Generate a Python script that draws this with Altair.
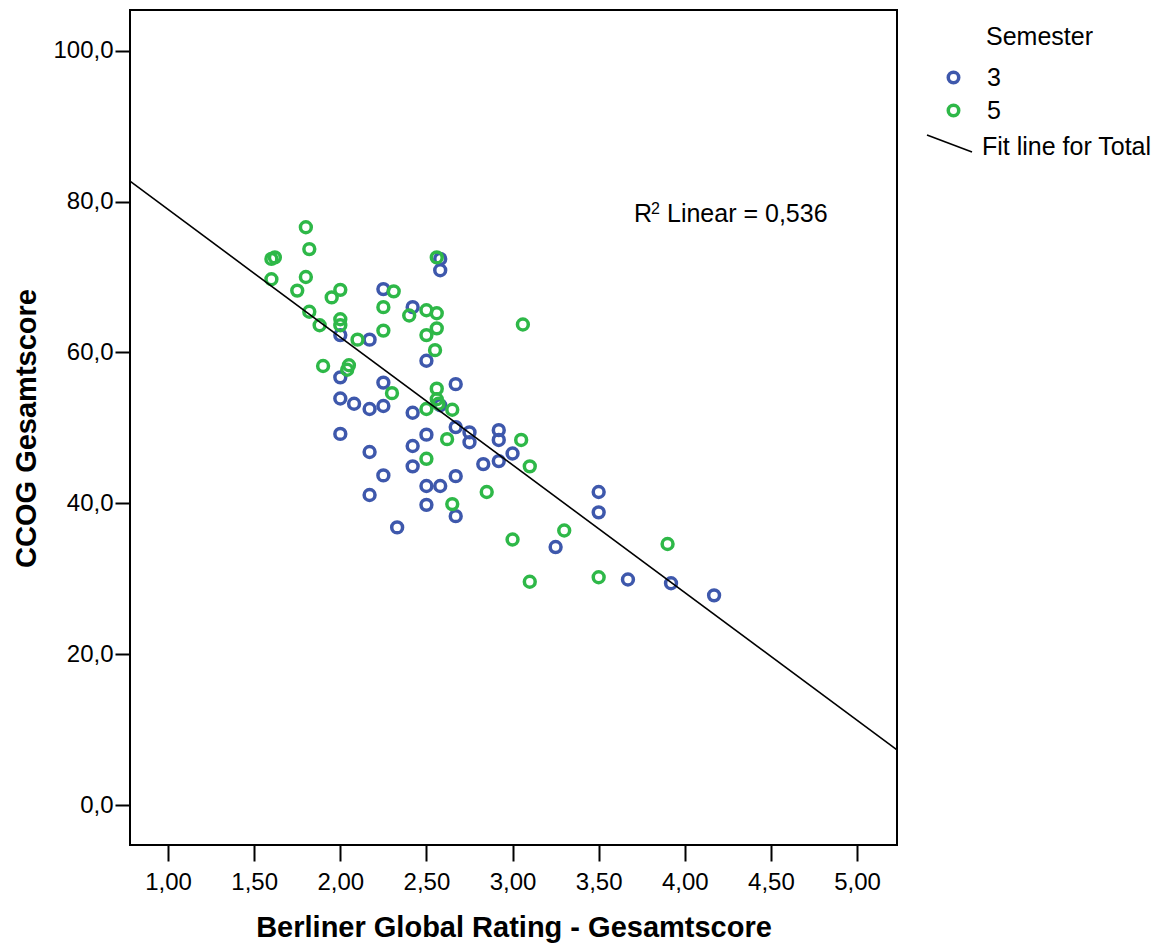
import altair as alt
import pandas as pd

# ---- data ----
sem3_x = [2.58, 2.58, 2.25, 2.42, 2.00, 2.17, 2.50, 2.00, 2.25, 2.67, 2.00, 2.08, 2.17, 2.25,
          2.42, 2.58, 2.67, 2.75, 2.92, 2.92, 2.75, 2.50, 2.00, 2.42, 2.17, 3.00, 2.83, 2.92,
          2.42, 2.25, 2.67, 2.50, 2.58, 2.17, 2.50, 2.67, 2.33, 3.50, 3.50, 3.25, 3.67, 3.92, 4.17]
sem3_y = [72.4, 70.9, 68.4, 66.0, 62.3, 61.7, 58.9, 56.7, 56.0, 55.8, 53.9, 53.2, 52.5, 52.9,
          52.0, 53.0, 50.1, 49.4, 49.7, 48.4, 48.1, 49.1, 49.2, 47.6, 46.8, 46.6, 45.2, 45.6,
          44.9, 43.7, 43.6, 42.3, 42.3, 41.1, 39.8, 38.3, 36.8, 41.5, 38.8, 34.2, 29.9, 29.4, 27.8]

sem5_x = [1.80, 1.82, 1.60, 1.62, 1.60, 1.80, 1.75, 1.95, 2.00, 2.31, 1.82, 1.88, 2.00, 2.00,
          2.10, 2.25, 2.25, 2.40, 2.50, 2.56, 2.56, 2.50, 2.55, 2.56, 1.90, 2.05, 2.04, 2.56,
          2.56, 2.57, 2.30, 2.50, 2.65, 2.62, 2.50, 3.05, 3.10, 2.85, 2.65, 3.30, 3.00, 3.10,
          3.50, 3.90, 3.06]
sem5_y = [76.6, 73.7, 72.4, 72.6, 69.7, 70.0, 68.2, 67.3, 68.3, 68.1, 65.4, 63.6, 64.4, 63.6,
          61.7, 66.0, 62.9, 64.9, 65.6, 65.2, 63.2, 62.3, 60.3, 72.6, 58.2, 58.3, 57.7, 55.2,
          53.8, 53.2, 54.6, 52.5, 52.4, 48.5, 45.9, 48.4, 44.9, 41.5, 39.9, 36.4, 35.2, 29.6,
          30.2, 34.6, 63.7]

fit_x = [0.779, 5.232]
fit_y = [82.7, 7.3]

x_ticks = [1.0, 1.5, 2.0, 2.5, 3.0, 3.5, 4.0, 4.5, 5.0]
y_ticks = [0, 20, 40, 60, 80, 100]
semesters = ["3", "5"]
sem_colors = ["#3E58AC", "#2EB848"]

FONT = "Liberation Sans"

df = pd.DataFrame({
    "bgr": sem3_x + sem5_x,
    "ccog": sem3_y + sem5_y,
    "Semester": ["3"] * len(sem3_x) + ["5"] * len(sem5_x),
})
fit_df = pd.DataFrame({"bgr": fit_x, "ccog": fit_y})
one = pd.DataFrame({"k": [0]})

x_scale = alt.Scale(domain=[0.779, 5.232], nice=False, zero=False)
y_scale = alt.Scale(domain=[-5.3, 105.4], nice=False, zero=False)

x_axis = alt.Axis(
    title="Berliner Global Rating - Gesamtscore", values=x_ticks,
    labelExpr="replace(format(datum.value, '.2f'), '.', ',')",
    grid=False, domain=False, tickSize=16, tickWidth=2, tickColor="black",
    labelFont=FONT, labelFontSize=24, labelColor="black", labelPadding=9,
    titleFont=FONT, titleFontSize=29, titleFontWeight="bold", titleColor="black",
    titleBaseline="alphabetic", titleX=383.5, titleY=91,
)
y_axis = alt.Axis(
    title="CCOG Gesamtscore", values=y_ticks,
    labelExpr="replace(format(datum.value, '.1f'), '.', ',')",
    grid=False, domain=False, tickSize=15, tickWidth=2, tickColor="black",
    labelFont=FONT, labelFontSize=24, labelColor="black", labelPadding=2,
    titleFont=FONT, titleFontSize=29, titleFontWeight="bold", titleColor="black",
    titleAngle=270, titleBaseline="alphabetic", titleX=-95, titleY=418,
)

points = alt.Chart(df).mark_point(filled=False, size=118, strokeWidth=3.5, opacity=1).encode(
    x=alt.X("bgr:Q", scale=x_scale, axis=x_axis),
    y=alt.Y("ccog:Q", scale=y_scale, axis=y_axis),
    color=alt.Color(
        "Semester:N",
        scale=alt.Scale(domain=semesters, range=sem_colors),
        legend=alt.Legend(
            title=None, orient="none", legendX=811, legendY=55, padding=0,
            symbolSize=110, symbolStrokeWidth=3.5, symbolType="circle",
            labelFont=FONT, labelFontSize=25, labelColor="black",
            labelOffset=21, rowPadding=7,
        ),
    ),
)

fit = alt.Chart(fit_df).mark_line(color="black", strokeWidth=1.6).encode(
    x="bgr:Q", y="ccog:Q"
)

r_main = alt.Chart(one).mark_text(
    text="R", align="left", baseline="alphabetic", font=FONT, fontSize=25, color="black"
).encode(x=alt.value(504), y=alt.value(212))
r_sup = alt.Chart(one).mark_text(
    text="2", align="left", baseline="alphabetic", font=FONT, fontSize=16, color="black"
).encode(x=alt.value(521), y=alt.value(204))
r_rest = alt.Chart(one).mark_text(
    text="Linear = 0,536", align="left", baseline="alphabetic", font=FONT, fontSize=25, color="black"
).encode(x=alt.value(537), y=alt.value(212))

leg_title = alt.Chart(one).mark_text(
    text="Semester", align="left", baseline="middle", font=FONT, fontSize=25, color="black"
).encode(x=alt.value(856), y=alt.value(27))
leg_line = alt.Chart(one).mark_rule(color="black", strokeWidth=1.6).encode(
    x=alt.value(797), x2=alt.value(842), y=alt.value(125), y2=alt.value(142)
)
leg_text = alt.Chart(one).mark_text(
    text="Fit line for Total", align="left", baseline="middle", font=FONT, fontSize=25, color="black"
).encode(x=alt.value(852), y=alt.value(137))

chart = alt.layer(
    points, fit, r_main, r_sup, r_rest, leg_title, leg_line, leg_text
).properties(
    width=767, height=835,
    autosize=alt.AutoSizeParams(type="none"),
    padding={"left": 130, "top": 10, "right": 265, "bottom": 99},
    background="white",
).configure_view(stroke="black", strokeWidth=2)

chart.save("out.html", embed_options={"renderer": "svg", "actions": False})
